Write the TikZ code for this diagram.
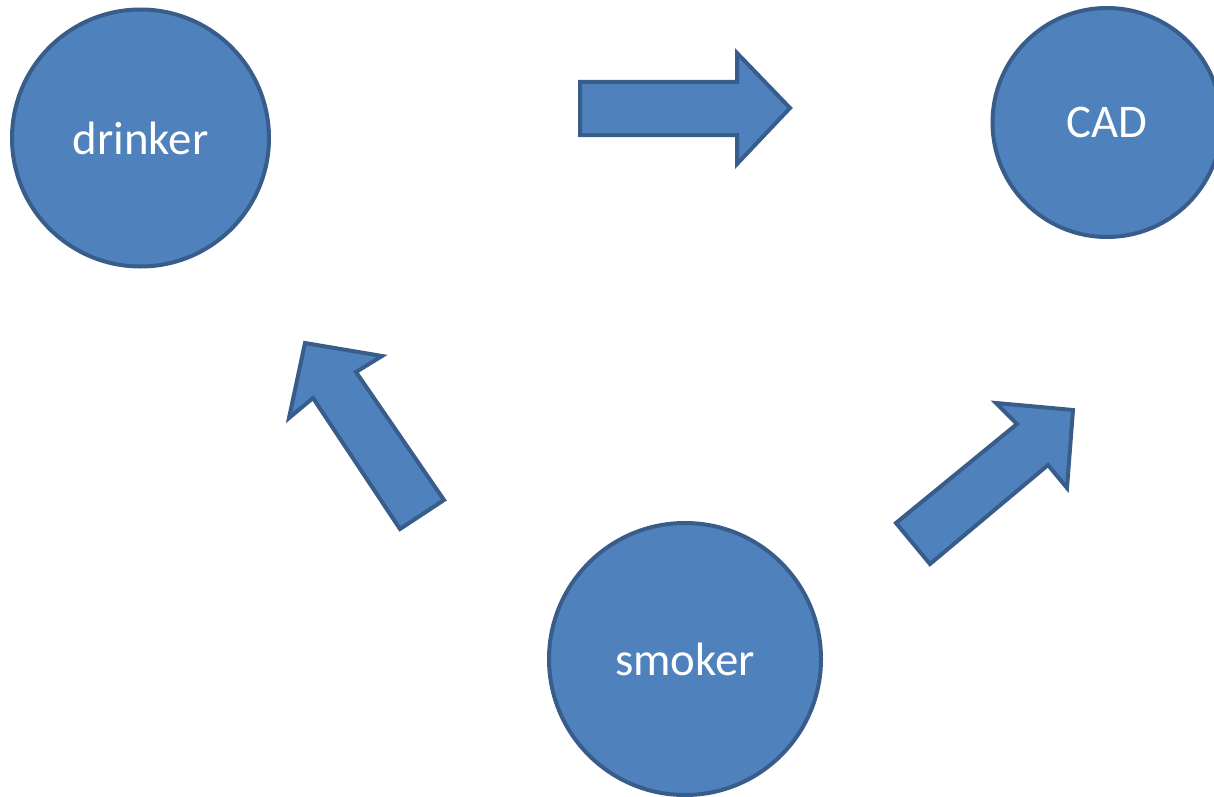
\documentclass[tikz,border=0pt]{standalone}
\usepackage{fontspec}
\setmainfont{Carlito}
\definecolor{fillblue}{HTML}{4F81BD}
\definecolor{edgeblue}{HTML}{385D8A}
\tikzset{
  blob/.style={circle, draw=edgeblue, fill=fillblue, line width=4bp, inner sep=0pt,
    text=white, font=\fontsize{47}{56}\selectfont},
  blockarrow/.style={draw=edgeblue, fill=fillblue, line width=4bp, line join=miter}
}
\begin{document}
\begin{tikzpicture}[x=1bp,y=-1bp]
\useasboundingbox (0,0) rectangle (1214,797);
\node[blob, minimum size=257bp] (drinker) at (140.5,138) {drinker};
\node[blob, minimum size=229bp] (cad) at (1107,122.5) {CAD};
\node[blob, minimum size=272bp] (smoker) at (685,659) {smoker};
% horizontal block arrow
\draw[blockarrow] (580,82) -- (737,82) -- (737,53) -- (790,108) -- (737,164) -- (737,135) -- (580,135) -- cycle;
% up-left block arrow
\draw[blockarrow] (444,500) -- (356,372) -- (382,356) -- (305,343) -- (289,418) -- (313,398) -- (400,529) -- cycle;
% up-right block arrow
\draw[blockarrow] (896,523) -- (1017,424) -- (996,403) -- (1073,410) -- (1067,488) -- (1048,465) -- (930,564) -- cycle;
\end{tikzpicture}
\end{document}
